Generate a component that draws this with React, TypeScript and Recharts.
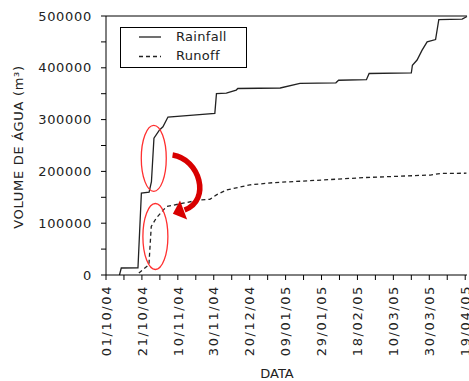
import React from 'react';
import { LineChart, Line, XAxis, YAxis, Legend, ReferenceLine, ReferenceDot } from 'recharts';

// days counted from 01/10/04
const rainDays = [7.5, 8.5, 17.8, 19.7, 24, 25.3, 26.7, 29.8, 31.7, 34.5, 48.5, 60.6, 61.5, 67, 72.5, 73.4, 97, 108, 128, 129.5, 145, 146.5, 170, 170.6, 173.2, 176, 178.8, 183.5, 185.3, 198.3, 201];
const rainValues = [0, 13500, 14000, 158000, 160000, 180000, 264000, 280000, 286000, 305000, 308700, 312000, 350000, 351000, 357000, 360000, 361000, 370000, 371000, 376000, 377000, 389000, 390000, 405000, 415000, 434000, 450000, 454500, 493000, 494000, 499000];

const runoffDays = [18.3, 23.9, 25.2, 28, 33.6, 42.9, 52.2, 57.8, 61.5, 67, 80.1, 93.1, 108, 128.5, 143.4, 180.6, 186.2, 200.7];
const runoffValues = [4000, 20000, 93600, 110000, 132000, 138700, 145000, 146000, 154700, 164000, 174000, 178300, 181000, 185000, 188000, 193000, 196000, 196500];

const xTicks = [0, 10, 20, 30, 40, 50, 60, 70, 80, 90, 100, 110, 120, 130, 140, 150, 160, 170, 180, 190, 200];
const yTicks = [0, 50000, 100000, 150000, 200000, 250000, 300000, 350000, 400000, 450000, 500000];

// annotation anchors (ellipses around the two rises)
const rainCircle = { day: 26.6, value: 225300 };
const runoffCircle = { day: 27.5, value: 74300 };

const rainfall = rainDays.map((d, i) => ({ day: d, value: rainValues[i] }));
const runoff = runoffDays.map((d, i) => ({ day: d, value: runoffValues[i] }));

const FONT = '"DejaVu Sans", sans-serif';
const START = Date.UTC(2004, 9, 1);

const fmtDate = (day: number) => {
  const d = new Date(START + day * 86400000);
  const dd = String(d.getUTCDate()).padStart(2, '0');
  const mm = String(d.getUTCMonth() + 1).padStart(2, '0');
  const yy = String(d.getUTCFullYear()).slice(2);
  return `${dd}/${mm}/${yy}`;
};

const XTick = ({ x, y, payload }: any) => {
  if (payload.value % 20 !== 0) return null;
  return (
    <text
      x={x}
      y={y}
      transform={`rotate(-90 ${x} ${y})`}
      textAnchor="end"
      dy="0.36em"
      fontFamily={FONT}
      fontSize={13}
      letterSpacing={1.6}
      fill="#222"
    >
      {fmtDate(payload.value)}
    </text>
  );
};

const Ellipse = ({ cx, cy }: any) => (
  <ellipse cx={cx} cy={cy} rx={12.5} ry={33} fill="none" stroke="#ff3030" strokeWidth={1.3} />
);

// curved arrow drawn relative to the upper ellipse
const Arrow = ({ cx, cy }: any) => {
  const p = (x: number, y: number) => `${cx + x - 154.2} ${cy + y - 158.3}`;
  return (
    <g>
      <path
        d={`M ${p(173, 155)} C ${p(200, 159)} ${p(212, 200)} ${p(185, 210)}`}
        fill="none"
        stroke="#d80000"
        strokeWidth={5.5}
      />
      <polygon
        points={`${p(173.3, 213.7)} ${p(180.4, 200.4)} ${p(187.6, 219.6)}`}
        fill="#d80000"
      />
    </g>
  );
};

const LegendBox = () => (
  <div
    style={{
      position: 'relative',
      width: 127,
      height: 41,
      border: '1px solid #000',
      boxSizing: 'border-box',
      background: '#fff',
      fontFamily: FONT,
      fontSize: 13,
      letterSpacing: 0.3,
      color: '#222',
    }}
  >
    <svg width={40} height={41} style={{ position: 'absolute', left: 0, top: 0 }}>
      <line x1={18} x2={50} y1={9} y2={9} stroke="#222" strokeWidth={1.3} />
      <line x1={18} x2={50} y1={28.5} y2={28.5} stroke="#222" strokeWidth={1.3} strokeDasharray="4 3" />
    </svg>
    <div style={{ position: 'absolute', left: 55, top: 1, lineHeight: '16px' }}>Rainfall</div>
    <div style={{ position: 'absolute', left: 55, top: 20, lineHeight: '16px' }}>Runoff</div>
  </div>
);

export default function App() {
  return (
    <div style={{ position: 'absolute', left: 0, top: 0, background: '#fff' }}>
      <LineChart width={469} height={381} margin={{ top: 16, right: 2, bottom: 26, left: 0 }}>
        <XAxis
          type="number"
          dataKey="day"
          domain={[0, 201]}
          ticks={xTicks}
          interval={0}
          height={80}
          tickSize={5}
          tickMargin={5}
          tick={<XTick />}
          axisLine={{ stroke: '#000' }}
          tickLine={{ stroke: '#000' }}
          allowDuplicatedCategory={false}
          label={() => (
            <text x={277} y={378} textAnchor="middle" fontFamily={FONT} fontSize={13} fill="#222">
              DATA
            </text>
          )}
        />
        <YAxis
          type="number"
          domain={[0, 500000]}
          ticks={yTicks}
          interval={0}
          width={106}
          tickSize={5}
          tickMargin={9}
          tickFormatter={(v: number) => (v % 100000 === 0 ? String(v) : '')}
          tick={{ fontFamily: FONT, fontSize: 13, fill: '#222', letterSpacing: 0.7 }}
          axisLine={{ stroke: '#000' }}
          tickLine={{ stroke: '#000' }}
          label={() => (
            <text
              x={18}
              y={147}
              transform="rotate(-90 18 147)"
              textAnchor="middle"
              dy="0.36em"
              fontFamily={FONT}
              fontSize={13}
              letterSpacing={0.7}
              fill="#222"
            >
              VOLUME DE ÁGUA (m³)
            </text>
          )}
        />
        <ReferenceLine y={500000} stroke="#000" strokeWidth={1} />
        <Line
          data={rainfall}
          dataKey="value"
          name="Rainfall"
          type="linear"
          stroke="#222"
          strokeWidth={1.3}
          dot={false}
          isAnimationActive={false}
        />
        <Line
          data={runoff}
          dataKey="value"
          name="Runoff"
          type="linear"
          stroke="#222"
          strokeWidth={1.3}
          strokeDasharray="4 3"
          dot={false}
          isAnimationActive={false}
        />
        <ReferenceDot x={rainCircle.day} y={rainCircle.value} shape={<Ellipse />} />
        <ReferenceDot x={runoffCircle.day} y={runoffCircle.value} shape={<Ellipse />} />
        <ReferenceDot x={rainCircle.day} y={rainCircle.value} shape={<Arrow />} />
        <Legend
          layout="horizontal"
          verticalAlign="middle"
          align="center"
          wrapperStyle={{ left: 120, top: 27, width: 127, height: 41 }}
          content={() => <LegendBox />}
        />
      </LineChart>
    </div>
  );
}
